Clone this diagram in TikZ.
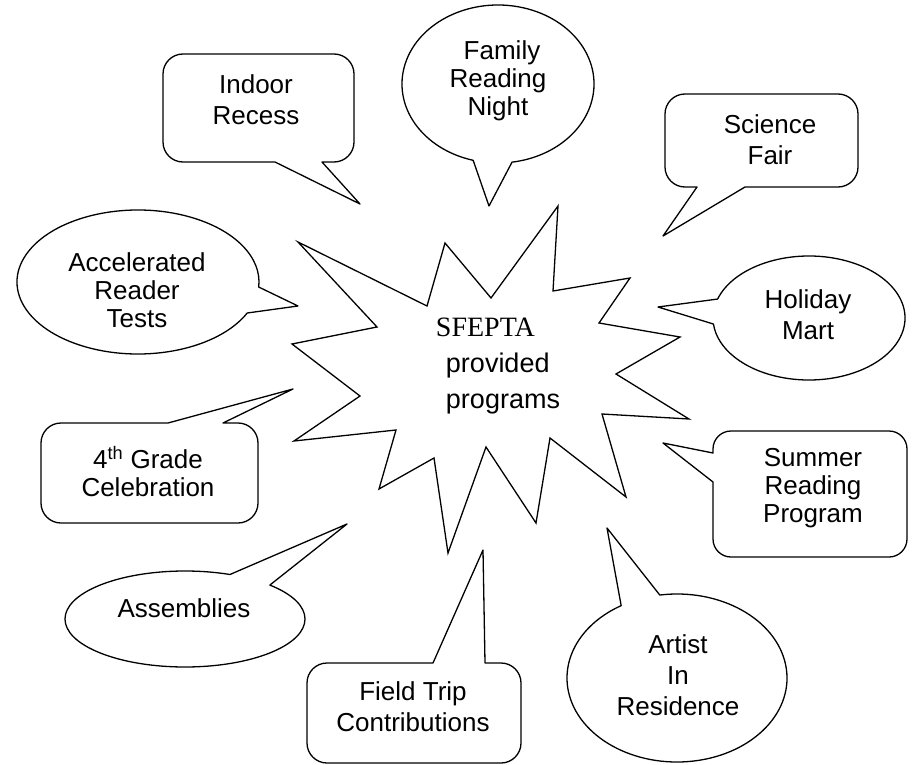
\documentclass[tikz,border=0pt]{standalone}
\usepackage{fontspec}
\setmainfont{Liberation Sans}
\newfontfamily\hubfont{Liberation Serif}
\usetikzlibrary{calc}

\begin{document}
\begin{tikzpicture}[x=1pt, y=-1pt,
    bubble/.style={draw=black, line width=1.3pt, line join=round},
    bubbletext/.style={align=center, inner sep=0pt, font=\fontsize{26}{28}\selectfont},
    tallertext/.style={bubbletext, font=\fontsize{26}{31}\selectfont}]
        \useasboundingbox (0,0) rectangle (915,765);
        \draw[bubble, line join=miter] (558,206)--(553,291)--(630,278)--(599,323)--(680,337)--(616,374)--(689,419)--(602,414)--(626,497)--(550,438)--(536,523)--(486,447)--(448,553)--(434,458)--(379,489)--(396,430)--(294,441)--(360,396)--(292,344)--(377,327)--(298,242)--(427,306)--(445,243)--(491,298)--cycle;
        \node[align=left, inner sep=0pt, font=\fontsize{27}{36}\selectfont] (hub) at (498,366) {{\hubfont\fontsize{28}{36}\selectfont SFEPTA}\\\hspace*{10pt}provided\\\hspace*{10pt}programs};
        % rounded boxes
        \draw[bubble] (220,162) [rounded corners=20pt] -| (163,54) -| (354,162) [sharp corners] -- (322,162) -- (360,204) -- (275,162) [rounded corners=20pt] -- cycle;
        \draw[bubble] (780,187) [rounded corners=20pt] -| (858,94) -| (665,187) [sharp corners] -- (697,187) -- (663,236) -- (745,187) [rounded corners=20pt] -- cycle;
        \draw[bubble] (713,510) [rounded corners=18pt] |- (907,557) |- (713,431) [sharp corners] -- (713,453) -- (663,443) -- (713,482) [rounded corners=18pt] -- cycle;
        \draw[bubble] (150,523) [rounded corners=20pt] -| (41,423) [sharp corners] -- (168,423) -- (293,389) -- (223,423) [rounded corners=20pt] -| (258,523) -- cycle;
        \draw[bubble] (414,763) [rounded corners=20pt] -| (307,663) [sharp corners] -- (433,663) -- (483,550) -- (485,663) [rounded corners=20pt] -| (521,763) -- cycle;
        % round ones
        \draw[bubble] ($(498,84)+(105:96 and 79)$) arc[start angle=105, end angle=441.6, x radius=96, y radius=79] -- (489,206) -- cycle;
        \draw[bubble] ($(138,282)+(25.5:121 and 72)$) arc[start angle=25.5, end angle=364, x radius=121, y radius=72] -- (298,306) -- cycle;
        \draw[bubble] ($(809,318)+(197.8:96 and 62)$) arc[start angle=197.8, end angle=534.4, x radius=96, y radius=62] -- (658,307) -- cycle;
        \draw[bubble] ($(677,678)+(261:110 and 84)$) arc[start angle=261, end angle=599.5, x radius=110, y radius=84] -- (607,528) -- cycle;
        \draw[bubble] ($(185,619)+(-45:120 and 48)$) arc[start angle=-45, end angle=292, x radius=120, y radius=48] -- (347,524) -- cycle;
        \node[tallertext] (indoor) at (256,100) {Indoor\\Recess};
        \node[bubbletext] (family) at (498,81) {\hspace*{8pt}Family\\Reading\\Night};
        \node[tallertext] (science) at (770,140) {Science\\Fair};
        \node[bubbletext] (accel) at (137,290) {Accelerated\\Reader\\Tests};
        \node[tallertext] (holiday) at (808,315) {Holiday\\Mart};
        \node[bubbletext] (fourth) at (148,472) {4\textsuperscript{th} Grade\\Celebration};
        \node[bubbletext] (summer) at (813,488) {Summer\\Reading\\Program};
        \node[bubbletext] (assembly) at (184,608) {Assemblies};
        \node[tallertext] (fieldtrip) at (413,707) {Field Trip\\Contributions};
        \node[tallertext] (artist) at (678,675) {Artist\\In\\Residence};
      \end{tikzpicture}
\end{document}
